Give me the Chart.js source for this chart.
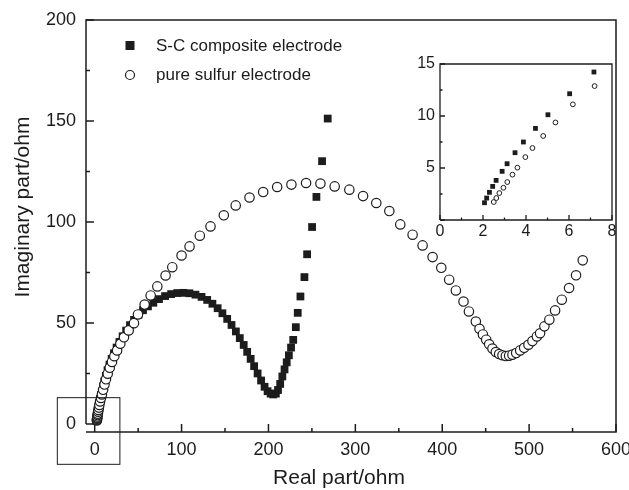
<!DOCTYPE html>
<html>
<head>
<meta charset="utf-8">
<script src="https://cdn.jsdelivr.net/npm/chart.js@4.4.1/dist/chart.umd.min.js"></script>
<style>
  html, body { margin: 0; padding: 0; background: #fff; }
  #wrap { position: relative; width: 629px; height: 490px; }
  #mainCanvas { position: absolute; left: 0; top: 0; width: 629px; height: 490px; }
  #insetCanvas { position: absolute; left: 395px; top: 50px; width: 229px; height: 195px; }
</style>
</head>
<body>
<div id="wrap">
  <canvas id="mainCanvas" width="629" height="490"></canvas>
  <canvas id="insetCanvas" width="229" height="195"></canvas>
</div>
<script>
// === DATI: zona ad alta frequenza (riquadro ingrandito) ===
const insetRealSC = [2.07, 2.17, 2.30, 2.45, 2.61, 2.89, 3.12, 3.49, 3.88, 4.44, 5.02, 6.03, 7.16];
const insetImagSC = [1.66, 2.11, 2.66, 3.23, 3.81, 4.68, 5.41, 6.47, 7.50, 8.81, 10.12, 12.14, 14.23];
const insetRealS  = [2.50, 2.62, 2.76, 2.95, 3.13, 3.37, 3.60, 3.97, 4.30, 4.80, 5.37, 6.18, 7.19];
const insetImagS  = [1.73, 2.11, 2.59, 3.10, 3.65, 4.36, 5.03, 6.05, 6.92, 8.08, 9.38, 11.12, 12.88];

// === DATI: resto dello spettro (grafico principale) ===
const realSC = [8.2, 9.5, 11.0, 12.8, 14.8, 17.0, 19.5, 22.2, 25.2, 28.5, 32.2, 36.2, 40.6, 45.3, 50.3,
    55.6, 61.3, 67.5, 74.0, 81.0, 88.0, 95.0, 102.0, 109.0, 116.0, 123.0, 129.5, 135.5, 141.5, 147.0,
    152.5, 157.5, 162.5, 167.0, 171.5, 175.5, 179.5, 183.5, 187.5, 191.5, 195.5, 199.0, 202.5, 205.5,
    208.5, 211.0, 213.5, 216.0, 218.5, 221.0, 223.5, 226.0, 228.5, 231.5, 233.7, 236.8, 241.4, 244.5,
    250.2, 255.2, 261.7, 268.2];
const imagSC = [16.0, 18.5, 21.0, 23.8, 26.6, 29.4, 32.2, 35.0, 37.8, 40.6, 43.4, 46.2, 48.9, 51.5, 54.0,
    56.3, 58.2, 60.0, 61.8, 63.3, 64.3, 64.8, 64.9, 64.7, 64.0, 62.9, 61.4, 59.5, 57.3, 54.8,
    52.0, 49.0, 45.8, 42.5, 39.1, 35.7, 32.2, 28.6, 25.0, 21.5, 18.4, 16.2, 15.0, 14.6,
    15.0, 16.8, 19.8, 23.5, 27.0, 30.5, 34.0, 37.8, 41.6, 47.9, 55.0, 63.1, 72.7, 84.0,
    97.5, 112.4, 130.1, 151.2];

const realS = [8.3, 9.7, 11.3, 13.0, 15.0, 17.3, 19.9, 22.6, 25.8, 29.5, 33.7, 39.1, 45.2, 49.8, 57.5,
    64.4, 72.1, 81.6, 89.3, 100.0, 109.2, 121.0, 133.3, 148.6, 162.3, 178.2, 193.9, 210.0, 226.4,
    243.3, 259.8, 276.2, 293.1, 308.9, 324.1, 339.1, 351.7, 365.9, 377.4, 388.9, 398.9, 408.0,
    415.7, 424.5, 430.7, 438.7, 442.9, 446.8, 450.6, 454.0, 457.8, 461.7, 465.5, 469.3, 473.2,
    477.0, 480.8, 485.1, 489.7, 494.3, 499.2, 503.8, 508.9, 512.6, 517.6, 523.3, 529.9, 537.6,
    546.0, 554.0, 561.7];
const imagS = [14.6, 16.9, 19.5, 22.1, 24.9, 27.8, 30.7, 33.5, 36.4, 39.7, 42.9, 46.3, 49.9, 54.2, 59.1,
    63.6, 68.1, 73.5, 77.6, 83.4, 87.9, 93.2, 97.8, 103.3, 108.2, 112.1, 114.8, 117.3, 118.5,
    119.3, 119.0, 117.6, 116.0, 112.8, 109.4, 105.4, 98.8, 93.7, 88.4, 82.6, 77.3, 71.4,
    66.1, 60.6, 55.7, 50.7, 47.1, 44.3, 41.7, 39.4, 37.3, 35.6, 34.6, 34.0, 33.6,
    33.8, 34.3, 35.1, 36.4, 37.7, 39.2, 41.0, 43.3, 44.9, 48.3, 51.6, 56.2, 61.5,
    67.3, 73.6, 81.0];

// === ETICHETTE ASSI ===
const mainXTicks = [0, 100, 200, 300, 400, 500, 600];
const mainYTicks = [0, 50, 100, 150, 200];
const insetXTicks = [0, 2, 4, 6, 8];
const insetYTicks = [5, 10, 15];

const FONT = "'Liberation Sans', Arial, sans-serif";
const INK = "#1c1c1c";

function toPoints(xs, ys) {
    return xs.map((x, i) => ({ x: x, y: ys[i] }));
}

// === CORNICE E TACCHE INTERNE (stile Origin) ===
const axisFrame = {
    id: "axisFrame",
    beforeDatasetsDraw(chart, args, o) {
        const { ctx, chartArea: a, scales: { x, y } } = chart;
        ctx.save();
        ctx.strokeStyle = INK;
        ctx.lineWidth = o.lineWidth;
        ctx.beginPath();
        const leftEnd = o.leftStop !== undefined ? y.getPixelForValue(o.leftStop) : a.bottom;
        ctx.moveTo(a.left, leftEnd);
        ctx.lineTo(a.left, a.top);
        ctx.lineTo(a.right, a.top);
        ctx.lineTo(a.right, a.bottom);
        ctx.lineTo(a.left, a.bottom);
        ctx.stroke();

        ctx.beginPath();
        for (let v = o.xFrom; v <= o.xTo + 1e-9; v += o.xStep / 2) {
            const px = x.getPixelForValue(v);
            const major = Math.abs((v - o.xFrom) / o.xStep - Math.round((v - o.xFrom) / o.xStep)) < 1e-6;
            ctx.moveTo(px, a.bottom);
            ctx.lineTo(px, a.bottom - (major ? o.major : o.minor));
        }
        for (let v = o.yFrom; v <= o.yTo + 1e-9; v += o.yStep / 2) {
            const py = y.getPixelForValue(v);
            const major = Math.abs((v - o.yFrom) / o.yStep - Math.round((v - o.yFrom) / o.yStep)) < 1e-6;
            ctx.moveTo(a.left, py);
            ctx.lineTo(a.left + (major ? o.major : o.minor), py);
        }
        ctx.stroke();
        ctx.restore();
    }
};

// === LEGENDA, TITOLI ASSI E RIQUADRO SULL'ORIGINE ===
const mainDecor = {
    id: "mainDecor",
    afterDraw(chart) {
        const { ctx, scales: { x, y } } = chart;
        ctx.save();
        ctx.fillStyle = INK;
        ctx.strokeStyle = INK;

        // legenda
        ctx.fillRect(125.5, 41, 9, 9);
        ctx.lineWidth = 1.2;
        ctx.beginPath();
        ctx.arc(130, 75, 4.5, 0, Math.PI * 2);
        ctx.stroke();
        ctx.font = "17px " + FONT;
        ctx.textBaseline = "middle";
        ctx.textAlign = "left";
        ctx.fillText("S-C composite electrode", 156, 46);
        ctx.fillText("pure sulfur electrode", 156, 75);

        // titoli assi
        ctx.font = "21px " + FONT;
        ctx.textAlign = "center";
        ctx.fillText("Real part/ohm", 339, 478);
        ctx.save();
        ctx.translate(23, 207);
        ctx.rotate(-Math.PI / 2);
        ctx.fillText("Imaginary part/ohm", 0, 0);
        ctx.restore();

        // riquadro della zona ingrandita
        ctx.lineWidth = 1;
        const x0 = x.getPixelForValue(-43), x1 = x.getPixelForValue(29);
        const y0 = y.getPixelForValue(13), y1 = y.getPixelForValue(-20);
        ctx.strokeRect(x0, y0, x1 - x0, y1 - y0);
        ctx.restore();
    }
};

function fixedTicks(list) {
    return (s) => { s.ticks = list.map(v => ({ value: v })); };
}

// === GRAFICO PRINCIPALE ===
new Chart(document.getElementById("mainCanvas"), {
    type: "scatter",
    data: {
        datasets: [{
            label: "S-C composite electrode",
            data: toPoints(insetRealSC.concat(realSC), insetImagSC.concat(imagSC)),
            pointStyle: "rect",
            pointRadius: 5.5,
            pointBackgroundColor: INK,
            pointBorderWidth: 0,
            order: 1
        }, {
            label: "pure sulfur electrode",
            data: toPoints(insetRealS.concat(realS), insetImagS.concat(imagS)),
            pointStyle: "circle",
            pointRadius: 4.7,
            pointBackgroundColor: "#ffffff",
            pointBorderColor: INK,
            pointBorderWidth: 1.2,
            order: 0
        }]
    },
    options: {
        responsive: false,
        animation: false,
        events: [],
        layout: { padding: { top: 20, right: 13, left: 0, bottom: 0 } },
        plugins: {
            legend: { display: false },
            tooltip: { enabled: false },
            axisFrame: { lineWidth: 1.5, leftStop: 0, major: 8, minor: 4,
                xFrom: 0, xTo: 600, xStep: 100, yFrom: 0, yTo: 200, yStep: 50 }
        },
        scales: {
            x: {
                type: "linear", min: -10, max: 600,
                grid: { display: false, drawTicks: false },
                border: { display: false },
                ticks: { padding: 7, color: INK, font: { family: FONT, size: 18 }, maxRotation: 0, autoSkip: false },
                afterBuildTicks: fixedTicks(mainXTicks),
                afterFit: (s) => { s.height = 58; s.paddingLeft = 0; s.paddingRight = 0; }
            },
            y: {
                type: "linear", min: -4, max: 200,
                grid: { display: false, drawTicks: false },
                border: { display: false },
                ticks: { padding: 10, color: INK, font: { family: FONT, size: 18 }, autoSkip: false },
                afterBuildTicks: fixedTicks(mainYTicks),
                afterFit: (s) => { s.width = 86; s.paddingTop = 0; s.paddingBottom = 0; }
            }
        }
    },
    plugins: [axisFrame, mainDecor]
});

// === RIQUADRO INGRANDITO ===
new Chart(document.getElementById("insetCanvas"), {
    type: "scatter",
    data: {
        datasets: [{
            label: "S-C composite electrode",
            data: toPoints(insetRealSC, insetImagSC),
            pointStyle: "rect",
            pointRadius: 3.4,
            pointBackgroundColor: INK,
            pointBorderWidth: 0,
            order: 1
        }, {
            label: "pure sulfur electrode",
            data: toPoints(insetRealS, insetImagS),
            pointStyle: "circle",
            pointRadius: 2.4,
            pointBackgroundColor: "#ffffff",
            pointBorderColor: INK,
            pointBorderWidth: 1,
            order: 0
        }]
    },
    options: {
        responsive: false,
        animation: false,
        events: [],
        layout: { padding: { top: 14, right: 12, left: 0, bottom: 0 } },
        plugins: {
            legend: { display: false },
            tooltip: { enabled: false },
            axisFrame: { lineWidth: 1.3, major: 5, minor: 2.5,
                xFrom: 0, xTo: 8, xStep: 2, yFrom: 0, yTo: 15, yStep: 5 }
        },
        scales: {
            x: {
                type: "linear", min: 0, max: 8,
                grid: { display: false, drawTicks: false },
                border: { display: false },
                ticks: { padding: 2, color: INK, font: { family: FONT, size: 16 }, maxRotation: 0, autoSkip: false },
                afterBuildTicks: fixedTicks(insetXTicks),
                afterFit: (s) => { s.height = 25; s.paddingLeft = 0; s.paddingRight = 0; }
            },
            y: {
                type: "linear", min: 0, max: 15,
                grid: { display: false, drawTicks: false },
                border: { display: false },
                ticks: { padding: 5, color: INK, font: { family: FONT, size: 16 }, autoSkip: false },
                afterBuildTicks: fixedTicks(insetYTicks),
                afterFit: (s) => { s.width = 45; s.paddingTop = 0; s.paddingBottom = 0; }
            }
        }
    },
    plugins: [axisFrame]
});
</script>
</body>
</html>
